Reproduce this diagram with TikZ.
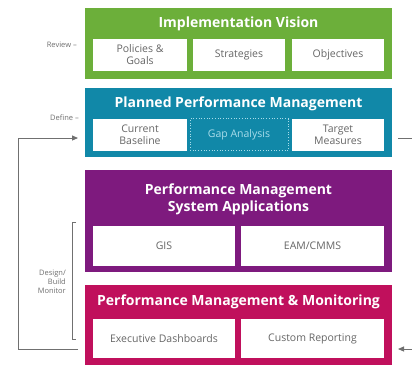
\documentclass[tikz,border=0pt]{standalone}
\usepackage{fontspec}
\setmainfont{Open Sans}
\usetikzlibrary{arrows.meta}
\definecolor{cgreen}{HTML}{6CAF3A}
\definecolor{cteal}{HTML}{1188A8}
\definecolor{cpurple}{HTML}{7E1A7E}
\definecolor{cmag}{HTML}{C0105C}
\definecolor{ctxt}{HTML}{666666}
\definecolor{cline}{HTML}{707070}
\definecolor{cgap}{HTML}{A8DCEA}
\tikzset{
  band/.style={fill=#1, draw=none},
  sub/.style={fill=white, draw=none, text=ctxt, font=\fontsize{10.5}{12}\selectfont, align=center, inner sep=0pt},
  ttl/.style={text=white, font=\fontsize{14}{17}\selectfont\bfseries, align=center, inner sep=0pt},
  side/.style={text=cline, font=\fontsize{7.5}{9}\selectfont, inner sep=0pt, align=right},
  conn/.style={draw=cline, line width=0.9pt},
}
\begin{document}
\begin{tikzpicture}[x=1pt,y=-1pt]
\useasboundingbox[fill=white] (0,0) rectangle (412,365);
% bands
\fill[band=cgreen] (85,8) rectangle (392,79);
\fill[band=cteal] (85,88) rectangle (392,157);
\fill[band=cpurple] (85,170) rectangle (392,272);
\fill[band=cmag] (85,285) rectangle (392,365);
% titles
\node[ttl] (t1) at (238.5,24) {Implementation Vision};
\node[ttl] (t2) at (238.5,104) {Planned Performance Management};
\node[ttl] (t3) at (238.5,199) {Performance Management\\System Applications};
\node[ttl] (t4) at (238.5,302) {Performance Management \& Monitoring};
% green subs
\node[sub, minimum width=94, minimum height=32] (pg) at (140,54.5) {Policies \&\\Goals};
\node[sub, minimum width=92, minimum height=32] (st) at (239,54.5) {Strategies};
\node[sub, minimum width=92, minimum height=32] (ob) at (338,54.5) {Objectives};
% teal subs
\node[sub, minimum width=94, minimum height=32] (cb) at (140,134.5) {Current\\Baseline};
\node[draw=cgap, dotted, line width=0.7pt, minimum width=98, minimum height=32, inner sep=0pt, text=cgap, font=\fontsize{10.5}{12}\selectfont] (ga) at (239,134.5) {Gap Analysis};
\node[sub, minimum width=92, minimum height=32] (tm) at (338,134.5) {Target\\Measures};
% purple subs
\node[sub, minimum width=142, minimum height=40] (gis) at (164,246) {GIS};
\node[sub, minimum width=143, minimum height=40] (eam) at (312.5,246) {EAM/CMMS};
% magenta subs
\node[sub, minimum width=142, minimum height=39] (ed) at (164,338.5) {Executive Dashboards};
\node[sub, minimum width=143, minimum height=39] (cr) at (312.5,338.5) {Custom Reporting};
% side labels
\node[side, anchor=east] (rv) at (77,45) {Review --};
\node[side, anchor=east] (df) at (79,118) {Define --};
\node[side, anchor=east] (dbm) at (66,282) {Design/\\Build\\Monitor};
% left loop arrow
\coordinate (la) at (18,349);
\coordinate (lb) at (18,138);
\coordinate (lend) at (78,138);
\coordinate (lstart) at (78,349);
\draw[conn, -{Triangle[length=6pt,width=5pt]}] (lstart) -- (la) -- (lb) -- (lend);
% bracket
\coordinate (b1) at (76,222);
\coordinate (b2) at (72,222);
\coordinate (b3) at (72,339);
\coordinate (b4) at (76,339);
\draw[draw=cline, line width=0.6pt] (b1) -- (b2) -- (b3) -- (b4);
% right lines
\coordinate (r1) at (398,138);
\coordinate (r2) at (412,138);
\draw[conn] (r1) -- (r2);
\coordinate (r3) at (412,349);
\coordinate (r4) at (398,349);
\draw[conn, -{Triangle[length=6pt,width=5pt]}] (r3) -- (r4);
\end{tikzpicture}
\end{document}
